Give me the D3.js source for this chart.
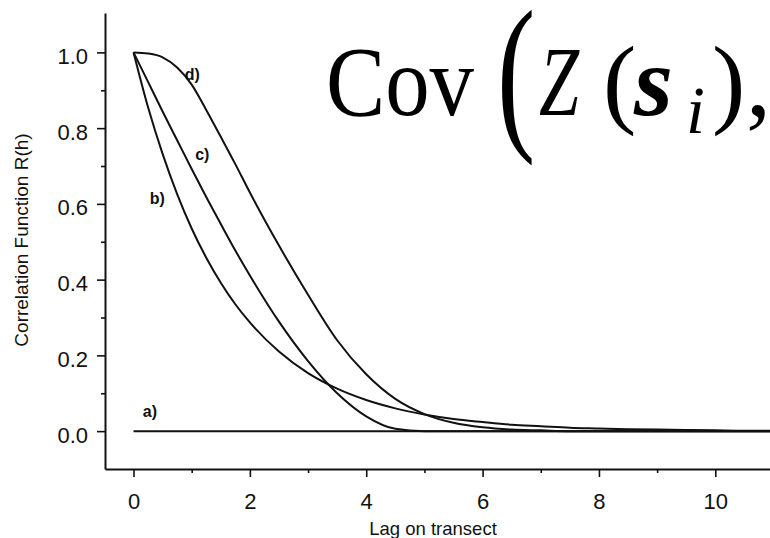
<!DOCTYPE html>
<html>
<head>
<meta charset="utf-8">
<script src="https://cdn.jsdelivr.net/npm/d3@7"></script>
<style>
  body { margin: 0; background: #fff; }
  svg { display: block; }
</style>
</head>
<body>
<div id="chart"></div>
<script>
// lag values (non uniform: finer near 0)
var lags = [0, 0.25, 0.5, 0.75, 1, 1.25, 1.5, 1.75, 2, 2.5, 3, 3.5, 4, 4.5, 5, 5.5, 6, 6.5, 7, 7.5, 8, 8.5, 9, 9.5, 10, 10.5, 11];
// a) pure nugget
var corrA = [0, 0, 0, 0, 0, 0, 0, 0, 0, 0, 0, 0, 0, 0, 0, 0, 0, 0, 0, 0, 0, 0, 0, 0, 0, 0, 0];
// b) exponential
var corrB = [1, 0.855, 0.732, 0.626, 0.535, 0.458, 0.392, 0.335, 0.287, 0.210, 0.153, 0.112, 0.082, 0.060, 0.044, 0.032, 0.024, 0.017, 0.013, 0.009, 0.007, 0.005, 0.004, 0.003, 0.002, 0.001, 0.001];
// c) spherical
var corrC = [1, 0.922, 0.844, 0.768, 0.692, 0.618, 0.547, 0.477, 0.411, 0.289, 0.185, 0.100, 0.039, 0.006, 0, 0, 0, 0, 0, 0, 0, 0, 0, 0, 0, 0, 0];
// d) gaussian-like
var corrD = [1, 0.997, 0.987, 0.96, 0.915, 0.848, 0.777, 0.705, 0.63, 0.49, 0.36, 0.24, 0.15, 0.085, 0.045, 0.022, 0.010, 0.004, 0.002, 0, 0, 0, 0, 0, 0, 0, 0];

var seriesNames = ["a)", "b)", "c)", "d)"];
var labelLag = [0.16, 0.28, 1.06, 0.88];
var labelCorr = [0.037, 0.60, 0.716, 0.928];

var yMajor = [0, 0.2, 0.4, 0.6, 0.8, 1.0];
var yMinor = [0.1, 0.3, 0.5, 0.7, 0.9];
var xMajor = [0, 2, 4, 6, 8, 10];
var xMinor = [1, 3, 5, 7, 9];

var width = 770, height = 538;

var svg = d3.select("#chart")
    .append("svg")
    .attr("width", width)
    .attr("height", height);

var x = d3.scaleLinear().domain([-0.49, 10.94]).range([105, 770]);
var y = d3.scaleLinear().domain([-0.1, 1.104]).range([469, 13]);

var sans = "'Liberation Sans', Arial, Helvetica, sans-serif";

// y axis
var yAxis = svg.append("g")
    .attr("transform", "translate(105,0)")
    .call(d3.axisLeft(y).tickValues(yMajor).tickFormat(d3.format(".1f"))
        .tickSize(8).tickSizeOuter(0).tickPadding(9));
yAxis.selectAll("text").attr("dy", "0.5em");
svg.append("g")
    .attr("transform", "translate(105,0)")
    .call(d3.axisLeft(y).tickValues(yMinor).tickFormat("").tickSize(4))
    .select(".domain").remove();

// x axis
svg.append("g")
    .attr("transform", "translate(0,469)")
    .call(d3.axisBottom(x).tickValues(xMajor).tickFormat(d3.format("d"))
        .tickSize(8).tickSizeOuter(0).tickPadding(16));
svg.append("g")
    .attr("transform", "translate(0,469)")
    .call(d3.axisBottom(x).tickValues(xMinor).tickFormat("").tickSize(4))
    .select(".domain").remove();

svg.selectAll(".domain").attr("stroke", "#111").attr("stroke-width", 2);
svg.selectAll(".tick line").attr("stroke", "#111").attr("stroke-width", 1.6);
svg.selectAll(".tick text")
    .attr("font-family", sans)
    .attr("font-size", 22)
    .attr("fill", "#111");

// axis titles
svg.append("text")
    .attr("transform", "translate(28,240) rotate(-90)")
    .attr("text-anchor", "middle")
    .attr("font-family", sans)
    .attr("font-size", 19)
    .attr("fill", "#111")
    .text("Correlation Function R(h)");

svg.append("text")
    .attr("x", 433)
    .attr("y", 535)
    .attr("text-anchor", "middle")
    .attr("font-family", sans)
    .attr("font-size", 18.5)
    .attr("fill", "#111")
    .text("Lag on transect");

// curves
var allSeries = [corrA, corrB, corrC, corrD];
var line = d3.line()
    .x(function(d) { return x(d[0]); })
    .y(function(d) { return y(d[1]); })
    .curve(d3.curveMonotoneX);

allSeries.forEach(function(vals) {
    svg.append("path")
        .datum(d3.zip(lags, vals))
        .attr("fill", "none")
        .attr("stroke", "#111")
        .attr("stroke-width", 2)
        .attr("d", line);
});

// curve labels
seriesNames.forEach(function(name, i) {
    svg.append("text")
        .attr("x", x(labelLag[i]))
        .attr("y", y(labelCorr[i]))
        .attr("font-family", sans)
        .attr("font-weight", "bold")
        .attr("font-size", 16)
        .attr("fill", "#111")
        .text(name);
});

// overlaid formula fragment
var serif = "'Liberation Serif', 'Times New Roman', serif";
var formula = svg.append("g").attr("fill", "#000").attr("font-family", serif);
formula.append("text")
    .attr("x", 326).attr("y", 115)
    .attr("font-size", 100)
    .attr("textLength", 148).attr("lengthAdjust", "spacingAndGlyphs")
    .text("Cov");
formula.append("text")
    .attr("transform", "translate(497,129) scale(1.15,1.72)")
    .attr("font-size", 100)
    .text("(");
formula.append("text")
    .attr("transform", "translate(539,115) scale(0.72,1)")
    .attr("font-size", 100)
    .attr("font-style", "italic")
    .text("Z");
formula.append("text")
    .attr("x", 603).attr("y", 115)
    .attr("font-size", 100)
    .text("(");
formula.append("text")
    .attr("x", 634).attr("y", 115)
    .attr("font-size", 100)
    .attr("font-style", "italic")
    .attr("font-weight", "bold")
    .text("s");
formula.append("text")
    .attr("x", 686).attr("y", 133)
    .attr("font-size", 68)
    .attr("font-style", "italic")
    .text("i");
formula.append("text")
    .attr("x", 712).attr("y", 115)
    .attr("font-size", 100)
    .text(")");
formula.append("text")
    .attr("x", 746).attr("y", 115)
    .attr("font-size", 100)
    .text(",");
</script>
</body>
</html>
